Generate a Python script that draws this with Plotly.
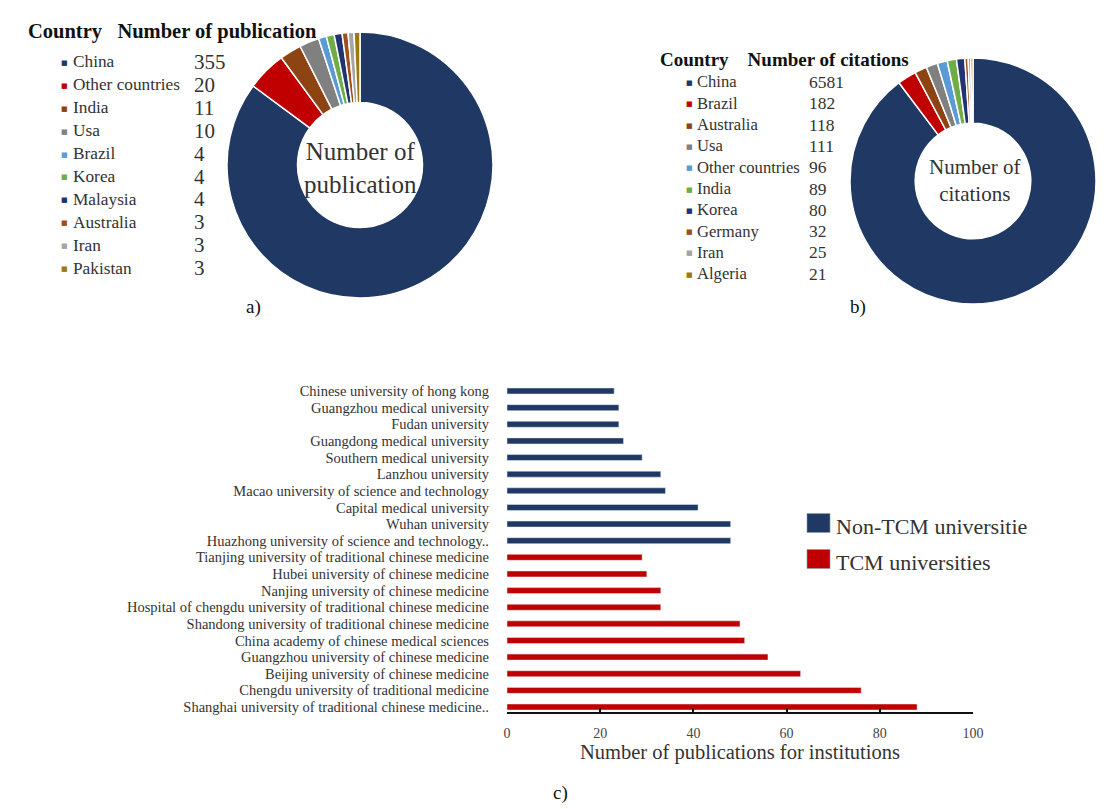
import plotly.graph_objects as go

W, H = 1113, 809

# ---------------- data ----------------
pub_countries = ["China", "Other countries", "India", "Usa", "Brazil", "Korea",
                 "Malaysia", "Australia", "Iran", "Pakistan"]
pub_values = [355, 20, 11, 10, 4, 4, 4, 3, 3, 3]

cit_countries = ["China", "Brazil", "Australia", "Usa", "Other countries", "India",
                 "Korea", "Germany", "Iran", "Algeria"]
cit_values = [6581, 182, 118, 111, 96, 89, 80, 32, 25, 21]

palette = ["#203864", "#C00000", "#8E4412", "#808080", "#5B9BD5", "#70AD47",
           "#1F3470", "#A0501A", "#A5A5A5", "#9C7A10"]

inst_non_tcm = ["Chinese university of hong kong", "Guangzhou medical university",
                "Fudan university", "Guangdong medical university",
                "Southern medical university", "Lanzhou university",
                "Macao university of science and technology",
                "Capital medical university", "Wuhan university",
                "Huazhong university of science and technology.."]
val_non_tcm = [23, 24, 24, 25, 29, 33, 34, 41, 48, 48]

inst_tcm = ["Tianjing university of traditional chinese medicine",
            "Hubei university of chinese medicine",
            "Nanjing university of chinese medicine",
            "Hospital of chengdu university of traditional chinese medicine",
            "Shandong university of traditional chinese medicine",
            "China academy of chinese medical sciences",
            "Guangzhou university of chinese medicine",
            "Beijing university of chinese medicine",
            "Chengdu university of traditional medicine",
            "Shanghai university of traditional chinese medicine.."]
val_tcm = [29, 30, 33, 33, 50, 51, 56, 63, 76, 88]

series_names = ["Non-TCM universities", "TCM universities"]

x_ticks = [0, 20, 40, 60, 80, 100]

SERIF = "Liberation Serif"
NAVY = "#203864"
RED = "#C00000"
series_colors = [NAVY, RED]


def px(x):
    return x / W


def py(y):
    return 1 - y / H


fig = go.Figure()

# ---------------- donuts ----------------
fig.add_trace(go.Pie(
    labels=pub_countries, values=pub_values, hole=0.47, sort=False,
    direction="clockwise", rotation=0, textinfo="none", showlegend=False,
    marker=dict(colors=palette, line=dict(color="white", width=1.5)),
    domain=dict(x=[px(227), px(493)], y=[py(298), py(32)]),
))
fig.add_trace(go.Pie(
    labels=cit_countries, values=cit_values, hole=0.47, sort=False,
    direction="clockwise", rotation=0, textinfo="none", showlegend=False,
    marker=dict(colors=palette, line=dict(color="white", width=1.5)),
    domain=dict(x=[px(850), px(1096)], y=[py(304), py(58)]),
))

# ---------------- bars ----------------
categories = inst_non_tcm + inst_tcm
fig.add_trace(go.Bar(
    y=inst_non_tcm, x=val_non_tcm, orientation="h", name=series_names[0],
    marker=dict(color=NAVY), xaxis="x", yaxis="y", showlegend=False,
))
fig.add_trace(go.Bar(
    y=inst_tcm, x=val_tcm, orientation="h", name=series_names[1],
    marker=dict(color=RED), xaxis="x", yaxis="y", showlegend=False,
))

annotations = []
shapes = []

# ---------------- pie legends (tables) ----------------
def table(header_x, header_y, header_text, names, values, mk_x, name_x, num_x,
          row0, step, name_size, num_size, header_size):
    annotations.append(dict(
        x=px(header_x), y=py(header_y), xref="paper", yref="paper",
        xanchor="left", yanchor="middle", showarrow=False,
        text="<b>" + header_text + "</b>",
        font=dict(family=SERIF, size=header_size, color="#111")))
    for i, (n, v) in enumerate(zip(names, values)):
        yy = row0 + i * step
        annotations.append(dict(
            x=px(mk_x), y=py(yy + 1), xref="paper", yref="paper",
            xanchor="center", yanchor="middle", showarrow=False, text="■",
            font=dict(family="DejaVu Sans", size=7, color=palette[i])))
        annotations.append(dict(
            x=px(name_x), y=py(yy), xref="paper", yref="paper",
            xanchor="left", yanchor="middle", showarrow=False, text=n,
            font=dict(family=SERIF, size=name_size, color="#333")))
        annotations.append(dict(
            x=px(num_x), y=py(yy), xref="paper", yref="paper",
            xanchor="left", yanchor="middle", showarrow=False, text=str(v),
            font=dict(family=SERIF, size=num_size, color="#333")))


table(26, 31, "Country&nbsp;&nbsp;&nbsp;Number of publication", pub_countries, pub_values,
      64, 71, 192, 62, 22.9, 17.3, 21, 20.5)
table(658, 60, "Country&nbsp;&nbsp;&nbsp;&nbsp;Number of citations", cit_countries, cit_values,
      689, 695, 807, 82, 21.3, 16.6, 17.5, 19)

# centre labels
annotations.append(dict(x=px(360), y=py(168), xref="paper", yref="paper",
                        xanchor="center", yanchor="middle",
                        showarrow=False, text="Number of<br>publication",
                        font=dict(family=SERIF, size=25, color="#333")))
annotations.append(dict(x=px(975), y=py(180), xref="paper", yref="paper",
                        xanchor="center", yanchor="middle",
                        showarrow=False, text="Number of<br>citations",
                        font=dict(family=SERIF, size=21, color="#333")))

# panel letters
for lab, (lx, ly) in zip(["a)", "b)", "c)"], [(253, 307), (858, 307), (560, 793)]):
    annotations.append(dict(x=px(lx), y=py(ly), xref="paper", yref="paper",
                            xanchor="center", yanchor="middle",
                            showarrow=False, text=lab,
                            font=dict(family=SERIF, size=19, color="#111")))

# bar-chart legend (swatch + label; first label clipped as in the source)
for i, (nm, col) in enumerate(zip(series_names, series_colors)):
    cy = 523 + i * 36
    shapes.append(dict(type="rect", xref="paper", yref="paper",
                       x0=px(807), x1=px(830), y0=py(cy + 9.5), y1=py(cy - 9.5),
                       fillcolor=col, line=dict(width=0.6, color="#8899aa")))
    ann = dict(x=px(834), y=py(cy + 3), xref="paper", yref="paper",
               xanchor="left", yanchor="middle", align="left", showarrow=False,
               text=nm, font=dict(family=SERIF, size=22, color="#333"))
    if i == 0:
        ann["width"] = 192
    annotations.append(ann)

fig.update_layout(
    width=W, height=H, margin=dict(l=0, r=0, t=0, b=0, autoexpand=False),
    paper_bgcolor="white", plot_bgcolor="white",
    barmode="overlay", bargap=0.64, showlegend=False,
    font=dict(family=SERIF, color="#333"),
    xaxis=dict(domain=[px(507), px(973)], range=[0, 100], tickvals=x_ticks,
               showgrid=False, zeroline=False, showline=True, linecolor="#111",
               linewidth=2, ticks="inside", ticklen=4, tickwidth=2, tickcolor="#111",
               ticklabelstandoff=7,
               tickfont=dict(family=SERIF, size=14, color="#444"),
               title=dict(text="Number of publications for institutions",
                          font=dict(family=SERIF, size=20.5, color="#333"), standoff=2),
               anchor="y", fixedrange=True, automargin=True),
    yaxis=dict(domain=[py(712), py(382.7)], type="category",
               categoryorder="array", categoryarray=categories,
               tickmode="array", tickvals=categories, ticktext=categories,
               range=[19.3, -0.5], showgrid=False, zeroline=False, showline=False,
               ticks="", ticklabelstandoff=17,
               tickfont=dict(family=SERIF, size=14.5, color="#333"),
               anchor="x", fixedrange=True, automargin=False),
    annotations=annotations,
    shapes=shapes,
)

fig.write_html("out.html", config={"displayModeBar": False},
               post_script="document.body.style.margin='0';document.body.style.padding='0';")
